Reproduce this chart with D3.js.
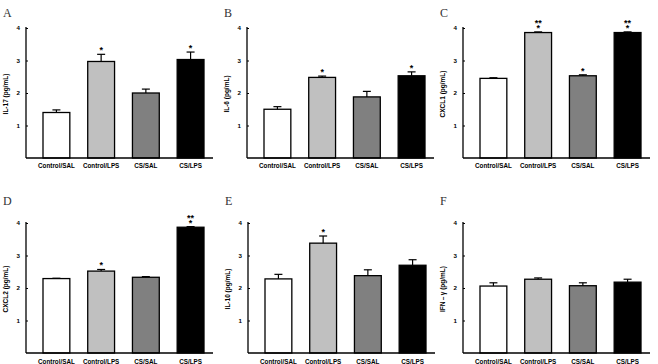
<!DOCTYPE html>
<html>
<head>
<meta charset="utf-8">
<script src="https://cdn.jsdelivr.net/npm/d3@7"></script>
<style>
  html, body { margin: 0; padding: 0; background: #fff; }
  svg { display: block; }
</style>
</head>
<body>
<div id="chart"></div>
<script>
// groups on x axis
const groups = ["Control/SAL", "Control/LPS", "CS/SAL", "CS/LPS"];
const barColors = ["#ffffff", "#c0c0c0", "#808080", "#000000"];
const yTicks = [1, 2, 3, 4];

// panel letters and y titles
const panelLetters = ["A", "B", "C", "D", "E", "F"];
const yTitles = ["IL-17 (pg/mL)", "IL-6 (pg/mL)", "CXCL1 (pg/mL)", "CXCL2 (pg/mL)", "IL-10 (pg/mL)", "IFN\u2009\u2013\u2009\u03b3 (pg/mL)"];

// means per panel
const meansA = [1.40, 2.97, 2.00, 3.03];
const meansB = [1.50, 2.48, 1.88, 2.53];
const meansC = [2.45, 3.86, 2.53, 3.86];
const meansD = [2.29, 2.52, 2.33, 3.87];
const meansE = [2.28, 3.38, 2.38, 2.70];
const meansF = [2.06, 2.27, 2.07, 2.18];

// upper error (SEM)
const errA = [0.08, 0.22, 0.12, 0.23];
const errB = [0.08, 0.04, 0.17, 0.12];
const errC = [0.02, 0.02, 0.03, 0.02];
const errD = [0.01, 0.05, 0.02, 0.02];
const errE = [0.14, 0.22, 0.18, 0.17];
const errF = [0.10, 0.04, 0.09, 0.09];

// significance marks (lines stacked top to bottom)
const sigA = [[], ["*"], [], ["*"]];
const sigB = [[], ["*"], [], ["*"]];
const sigC = [[], ["**", "*"], ["*"], ["**", "*"]];
const sigD = [[], ["*"], [], ["**", "*"]];
const sigE = [[], ["*"], [], []];
const sigF = [[], [], [], []];

const panels = [
  { means: meansA, err: errA, sig: sigA },
  { means: meansB, err: errB, sig: sigB },
  { means: meansC, err: errC, sig: sigC },
  { means: meansD, err: errD, sig: sigD },
  { means: meansE, err: errE, sig: sigE },
  { means: meansF, err: errF, sig: sigF }
];

// where each panel's y axis sits (top = value 4)
const origins = [
  { x: 26, y: 28 }, { x: 247, y: 28 }, { x: 463, y: 28 },
  { x: 26, y: 223 }, { x: 248, y: 223 }, { x: 463, y: 223 }
];

const W = 658, H = 364;
const plotH = 130;   // 0..4 on y
const axisLen = 187; // length of x axis line

const svg = d3.select("#chart").append("svg")
  .attr("width", W)
  .attr("height", H)
  .style("font-family", "Arial, 'Liberation Sans', sans-serif");

const y = d3.scaleLinear().domain([0, 4]).range([plotH, 0]);
const x = d3.scaleBand().domain(groups).range([17, 178]).paddingInner(0.4).paddingOuter(0);

panels.forEach((p, i) => {
  const o = origins[i];
  const bottomRow = i > 2;
  const g = svg.append("g").attr("transform", `translate(${o.x},${o.y})`);

  // panel letter
  svg.append("text")
    .attr("x", o.x - 23)
    .attr("y", o.y - 11 - (bottomRow ? 7 : 0))
    .attr("font-family", "'Liberation Serif', 'Times New Roman', serif")
    .attr("font-size", 12)
    .attr("fill", "#333")
    .text(panelLetters[i]);

  // bars
  g.selectAll("rect.bar").data(p.means).join("rect")
    .attr("class", "bar")
    .attr("x", (d, j) => x(groups[j]))
    .attr("y", d => y(d))
    .attr("width", x.bandwidth())
    .attr("height", d => y(0) - y(d))
    .attr("fill", (d, j) => barColors[j])
    .attr("stroke", "#000")
    .attr("stroke-width", 1.3);

  // error bars (upper only)
  p.means.forEach((m, j) => {
    const cx = x(groups[j]) + x.bandwidth() / 2;
    const top = y(m + p.err[j]);
    g.append("line")
      .attr("x1", cx).attr("x2", cx)
      .attr("y1", y(m)).attr("y2", top)
      .attr("stroke", "#000").attr("stroke-width", 1.2);
    g.append("line")
      .attr("x1", cx - 4).attr("x2", cx + 4)
      .attr("y1", top).attr("y2", top)
      .attr("stroke", "#000").attr("stroke-width", 1.2);

    // stars
    const marks = p.sig[j];
    marks.forEach((s, k) => {
      g.append("text")
        .attr("x", cx)
        .attr("y", top - 1 - (marks.length - 1 - k) * 4.6)
        .attr("text-anchor", "middle")
        .attr("font-size", 9)
        .attr("font-weight", "bold")
        .attr("fill", "#000")
        .text(s);
    });
  });

  // y axis
  const yAxis = g.append("g")
    .call(d3.axisRight(y).tickValues(yTicks).tickSize(2).tickFormat(d3.format("d")));
  yAxis.select(".domain").attr("d", `M0,-1V${plotH}`).attr("stroke-width", 1.3);
  yAxis.selectAll("text")
    .attr("x", -6)
    .attr("text-anchor", "end")
    .attr("font-size", 6.2)
    .attr("font-weight", "bold")
    .attr("fill", "#000")
    .attr("font-family", "Arial, 'Liberation Sans', sans-serif");

  // x axis line
  g.append("line")
    .attr("x1", 0).attr("x2", axisLen)
    .attr("y1", plotH).attr("y2", plotH)
    .attr("stroke", "#000").attr("stroke-width", 1.3);

  // category labels
  g.selectAll("text.cat").data(groups).join("text")
    .attr("class", "cat")
    .attr("x", d => x(d) + x.bandwidth() / 2)
    .attr("y", plotH + (bottomRow ? 10.5 : 9.5))
    .attr("text-anchor", "middle")
    .attr("font-size", 6.3)
    .attr("font-weight", "bold")
    .attr("fill", "#000")
    .text(d => d);

  // y title
  g.append("text")
    .attr("transform", `translate(-18.5,${plotH / 2 + 1}) rotate(-90)`)
    .attr("text-anchor", "middle")
    .attr("font-size", 6.5)
    .attr("font-weight", "bold")
    .attr("fill", "#000")
    .text(yTitles[i]);
});
</script>
</body>
</html>
